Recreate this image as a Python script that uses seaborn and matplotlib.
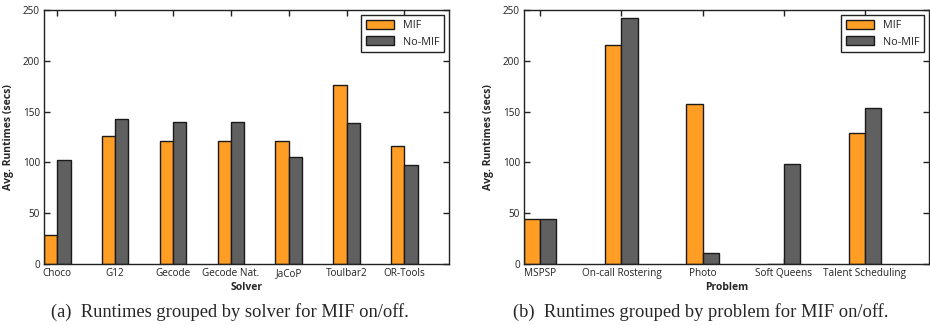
import pandas as pd
import matplotlib.pyplot as plt
import seaborn as sns

# values
solvers = ["Choco", "G12", "Gecode", "Gecode Nat.", "JaCoP", "Toulbar2", "OR-Tools"]
solver_mif = [29, 126, 121, 121, 121, 176, 116]
solver_nomif = [102, 143, 139.5, 139.5, 105, 139, 97.5]

problems = ["MSPSP", "On-call Rostering", "Photo", "Soft Queens", "Talent Scheduling"]
problem_mif = [44, 216, 157, 0.4, 129]
problem_nomif = [44.7, 242, 11, 98, 154]

series = ["MIF", "No-MIF"]
colors = ["#FF9D25", "#5F605F"]

sns.set_style("ticks")
plt.rcParams["font.family"] = ["Open Sans", "DejaVu Sans"]


def long_frame(cats, mif, nomif, key):
    rows = []
    for c, a, b in zip(cats, mif, nomif):
        rows.append({key: c, "Config": "MIF", "Runtime": a})
        rows.append({key: c, "Config": "No-MIF", "Runtime": b})
    return pd.DataFrame(rows)


df_solver = long_frame(solvers, solver_mif, solver_nomif, "Solver")
df_problem = long_frame(problems, problem_mif, problem_nomif, "Problem")

fig = plt.figure(figsize=(9.3, 3.25), dpi=100)
ax1 = fig.add_axes([44 / 930, 61 / 325, 405 / 930, 254 / 325])
ax2 = fig.add_axes([524 / 930, 61 / 325, 405 / 930, 254 / 325])

panels = [
    (ax1, df_solver, "Solver", 0.46, (-0.23, 6.77), 230,
     "(a)  Runtimes grouped by solver for MIF on/off."),
    (ax2, df_problem, "Problem", 0.40, (-0.20, 4.79), 701,
     "(b)  Runtimes grouped by problem for MIF on/off."),
]

for ax, df, key, w, xlim, cap_x, caption in panels:
    sns.barplot(data=df, x=key, y="Runtime", hue="Config", hue_order=series,
                palette=colors, width=w, edgecolor="#1a1a1a", linewidth=1.0,
                saturation=1, ax=ax)
    ax.set_xlim(*xlim)
    ax.set_ylim(0, 250)
    ax.set_yticks([0, 50, 100, 150, 200, 250])
    ax.tick_params(direction="in", top=True, right=True, labelsize=7.2, length=4,
                   width=1, pad=3, colors="#222222")
    for s in ax.spines.values():
        s.set_linewidth(1.0)
        s.set_color("#222222")
    ax.set_xlabel(key, fontsize=7.5, fontweight="bold", labelpad=2)
    ax.set_ylabel("Avg. Runtimes (secs)", fontsize=7.5, fontweight="bold", labelpad=6)
    leg = ax.legend(loc="upper right", fontsize=7.8, fancybox=False, framealpha=1,
                    edgecolor="#222222", handlelength=2.6, handleheight=0.9,
                    borderaxespad=0.5, labelspacing=0.5)
    leg.get_frame().set_linewidth(1.0)
    fig.text(cap_x / 930, 0.012, caption, ha="center", va="bottom",
             fontsize=13.3, family="Liberation Serif")

fig.savefig("out.png", dpi=100)
